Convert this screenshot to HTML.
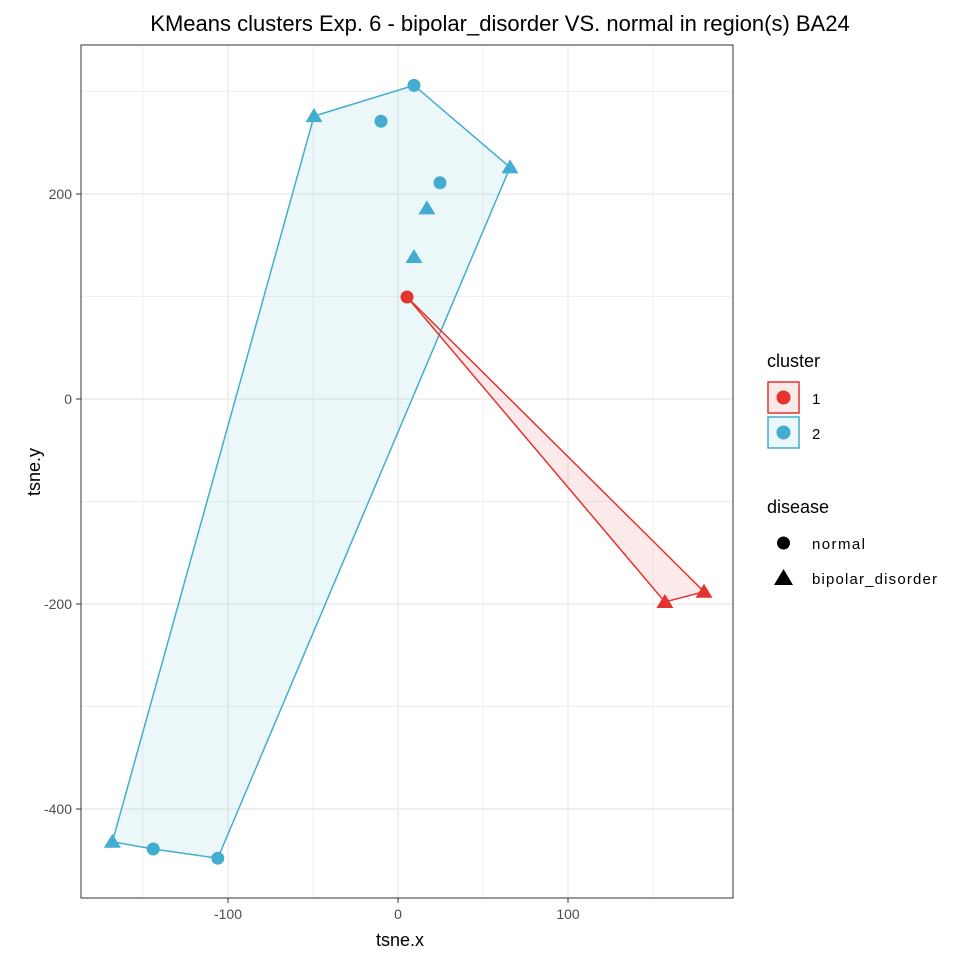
<!DOCTYPE html>
<html><head><meta charset="utf-8"><style>
body{margin:0;background:#fff;font-family:"Liberation Sans",sans-serif}
</style></head><body>
<svg id="c" width="960" height="960" xmlns="http://www.w3.org/2000/svg" font-family="Liberation Sans, sans-serif">
<rect width="960" height="960" fill="#fff"/>
<text x="500" y="31" font-size="22" text-anchor="middle">KMeans clusters Exp. 6 - bipolar_disorder VS. normal in region(s) BA24</text>
<g id="grid"></g>
<g id="hulls"></g>
<g id="pts"></g>
<rect x="81" y="45" width="652" height="853" fill="none" stroke="#333" stroke-width="1"/>
<g id="axes"></g>
<text x="400" y="946" font-size="18" text-anchor="middle">tsne.x</text>
<text transform="translate(40,472) rotate(-90)" font-size="18" text-anchor="middle">tsne.y</text>
<g>
<text x="767" y="367" font-size="18">cluster</text>
<rect x="768" y="382" width="31" height="31" fill="#e3342d" fill-opacity="0.1" stroke="#e3342d" stroke-width="1.5"/>
<circle cx="783.5" cy="397.5" r="7" fill="#e3342d"/>
<text x="812" y="404" font-size="15">1</text>
<rect x="768" y="417" width="31" height="31" fill="#42acd1" fill-opacity="0.1" stroke="#42acd1" stroke-width="1.5"/>
<circle cx="783.5" cy="432.5" r="7" fill="#42acd1"/>
<text x="812" y="439" font-size="15">2</text>
</g>
<g>
<text x="767" y="513" font-size="18">disease</text>
<circle cx="783.5" cy="543" r="6.5" fill="#000"/>
<text x="812" y="549" font-size="15" textLength="53">normal</text>
<polygon points="783.5,569 793,585 774,585" fill="#000"/>
<text x="812" y="584" font-size="15" textLength="125">bipolar_disorder</text>
</g>
</svg>
<script>
const xs=[-49.4,9.4,-10,65.9,24.7,17,9.4,-168,-144,-106,5.3,157,180];
const ys=[276,306,271,226,211,186,138.5,-432,-439,-448,99.5,-198,-188];
const clusters=[2,2,2,2,2,2,2,2,2,2,1,1,1];
const shapes=["t","c","c","t","c","t","t","t","c","c","c","t","t"];
const xTicks=[-100,0,100];
const yTicks=[-400,-200,0,200];
const X=v=>398+v*1.7, Y=v=>399-v*1.025;
const col={1:"#e3342d",2:"#42acd1"};
const NS="http://www.w3.org/2000/svg";
function mk(t,a,p){const e=document.createElementNS(NS,t);for(const k in a)e.setAttribute(k,a[k]);p.appendChild(e);return e;}
const g=document.getElementById('grid'),ax=document.getElementById('axes');
for(let v=-150;v<=150;v+=50){const major=v%100===0;const l=mk('line',{x1:X(v),x2:X(v),y1:45,y2:898,stroke:'#ebebeb','stroke-width':major?1.4:0.7},g);
}
for(let v=-500;v<=300;v+=100){const major=v%200===0;const y=Y(v);if(y<45||y>898)continue;const l=mk('line',{x1:81,x2:733,y1:y,y2:y,stroke:'#ebebeb','stroke-width':major?1.4:0.7},g);
}
xTicks.forEach(v=>{mk('line',{x1:X(v),x2:X(v),y1:898,y2:903,stroke:'#333'},ax);const t=mk('text',{x:X(v),y:919,'font-size':14,fill:'#4d4d4d','text-anchor':'middle'},ax);t.textContent=v;
});
yTicks.forEach(v=>{mk('line',{x1:76,x2:81,y1:Y(v),y2:Y(v),stroke:'#333'},ax);const t=mk('text',{x:72,y:Y(v)+5,'font-size':14,fill:'#4d4d4d','text-anchor':'end'},ax);t.textContent=v;
});
function hull(p){p=p.slice().sort((a,b)=>a[0]-b[0]||a[1]-b[1]);const cr=(o,a,b)=>(a[0]-o[0])*(b[1]-o[1])-(a[1]-o[1])*(b[0]-o[0]);
const lo=[],up=[];for(const q of p){while(lo.length>=2&&cr(lo[lo.length-2],lo[lo.length-1],q)<=0)lo.pop();lo.push(q);}
for(const q of p.slice().reverse()){while(up.length>=2&&cr(up[up.length-2],up[up.length-1],q)<=0)up.pop();up.push(q);}
return lo.slice(0,-1).concat(up.slice(0,-1));}
const hg=document.getElementById('hulls');
[2,1].forEach(c=>{const p=[];xs.forEach((x,i)=>{if(clusters[i]===c)p.push([X(x),Y(ys[i])]);});
const h=hull(p);const e=mk('polygon',{points:h.map(q=>q.join(',')).join(' '),fill:col[c],'fill-opacity':0.1,stroke:col[c],'stroke-width':1.5},hg);
});
const pg=document.getElementById('pts');
xs.forEach((x,i)=>{const cx=X(x),cy=Y(ys[i]),f=col[clusters[i]];let e;
if(shapes[i]==="c")e=mk('circle',{cx,cy,r:6.5,fill:f},pg);
else e=mk('polygon',{points:`${cx},${cy-8} ${cx+8.5},${cy+6} ${cx-8.5},${cy+6}`,fill:f},pg);
});
</script>
</body></html>
